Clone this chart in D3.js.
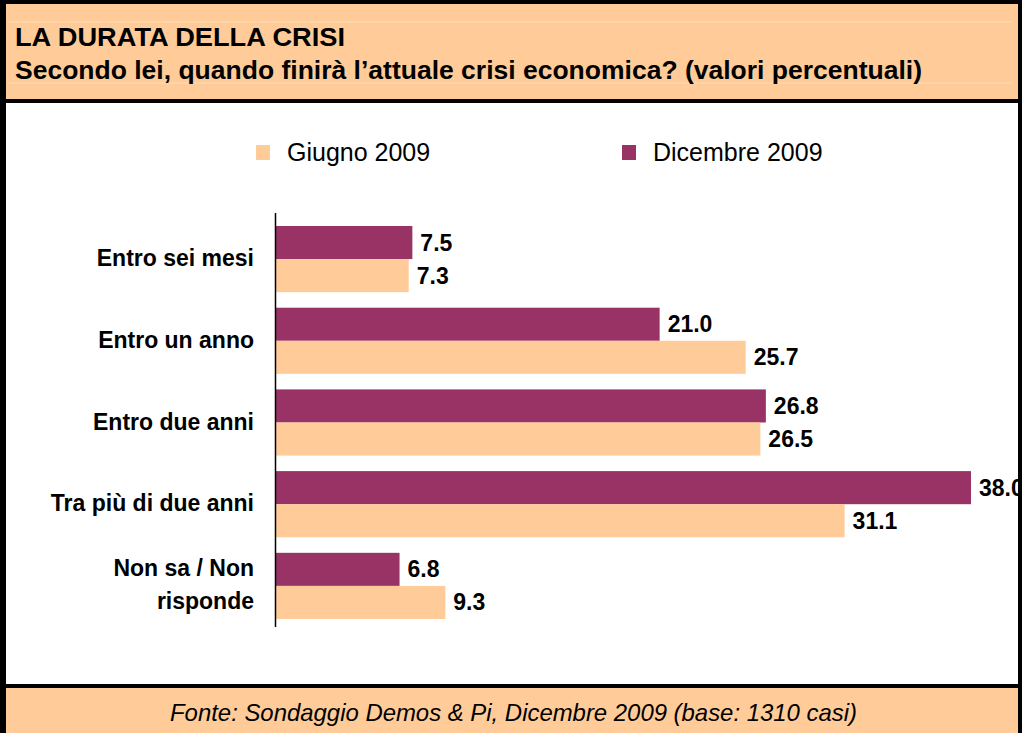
<!DOCTYPE html>
<html><head><meta charset="utf-8">
<script src="https://cdn.jsdelivr.net/npm/d3@7"></script>
<style>body{margin:0;background:#fff}svg{display:block}</style>
</head><body>
<script>
const categories = [["Entro sei mesi"],["Entro un anno"],["Entro due anni"],["Tra più di due anni"],["Non sa / Non","risponde"]];
const series = ["Dicembre 2009","Giugno 2009"];
const dicembre = [7.5, 21.0, 26.8, 38.0, 6.8];
const giugno = [7.3, 25.7, 26.5, 31.1, 9.3];
const colors = {"Dicembre 2009":"#993366","Giugno 2009":"#FFCC99"};

const W=1022,H=733;
const svg=d3.select("body").append("svg").attr("width",W).attr("height",H);
const font="'Liberation Sans', Arial, Helvetica, sans-serif";

// background & frame
svg.append("rect").attr("x",0).attr("y",0).attr("width",W).attr("height",H).attr("fill","#fff");
svg.append("rect").attr("x",3).attr("y",2).attr("width",1016).attr("height",100).attr("fill","#FFCC99");
svg.append("rect").attr("x",3).attr("y",686).attr("width",1016).attr("height",47).attr("fill","#FFCC99");
svg.append("line").attr("x1",8).attr("x2",1012).attr("y1",22).attr("y2",22).attr("stroke","#FFDDB8").attr("stroke-width",1);
svg.append("line").attr("x1",8).attr("x2",1012).attr("y1",83).attr("y2",83).attr("stroke","#FFDDB8").attr("stroke-width",1);
// borders
svg.append("rect").attr("x",0).attr("y",0).attr("width",6).attr("height",H).attr("fill","#000");
svg.append("rect").attr("x",1018).attr("y",0).attr("width",4).attr("height",H).attr("fill","#000");
svg.append("rect").attr("x",0).attr("y",0).attr("width",W).attr("height",4).attr("fill","#000");
svg.append("rect").attr("x",0).attr("y",99).attr("width",W).attr("height",4).attr("fill","#000");
svg.append("rect").attr("x",0).attr("y",684).attr("width",W).attr("height",4).attr("fill","#000");

// titles
svg.append("text").attr("x",15).attr("y",46).attr("font-family",font).attr("font-weight","bold").attr("font-size",25.5).attr("textLength",330).attr("lengthAdjust","spacingAndGlyphs").text("LA DURATA DELLA CRISI");
svg.append("text").attr("x",15).attr("y",79).attr("font-family",font).attr("font-weight","bold").attr("font-size",25.5).attr("textLength",907).attr("lengthAdjust","spacingAndGlyphs").text("Secondo lei, quando finirà l\u2019attuale crisi economica? (valori percentuali)");
svg.append("text").attr("x",170).attr("y",721).attr("font-family",font).attr("font-style","italic").attr("font-size",24).attr("textLength",687).attr("lengthAdjust","spacingAndGlyphs").text("Fonte: Sondaggio Demos & Pi, Dicembre 2009 (base: 1310 casi)");

// legend
const legend=[{name:"Giugno 2009",x:256},{name:"Dicembre 2009",x:622}];
legend.forEach(l=>{
  svg.append("rect").attr("x",l.x).attr("y",145).attr("width",14).attr("height",15).attr("fill",colors[l.name]);
  svg.append("text").attr("x",l.x+31).attr("y",161).attr("font-family",font).attr("font-size",25).text(l.name);
});

// scales
const x0=275;
const x=d3.scaleLinear().domain([0,38]).range([x0,971]);
const y=d3.scaleBand().domain(d3.range(categories.length)).range([226,619]).paddingInner(0.19).paddingOuter(0);
const ys=d3.scaleBand().domain(series).range([0,y.bandwidth()]);

const data={"Dicembre 2009":dicembre,"Giugno 2009":giugno};
categories.forEach((c,i)=>{
  series.forEach(s=>{
    const v=data[s][i];
    const yy=y(i)+ys(s);
    svg.append("rect").attr("x",x(0)).attr("y",yy).attr("width",x(v)-x(0)).attr("height",ys.bandwidth()).attr("fill",colors[s]);
    svg.append("text").attr("x",x(v)+8).attr("y",yy+ys.bandwidth()/2+8).attr("font-family",font).attr("font-weight","bold").attr("font-size",23).text(v.toFixed(1));
  });
  const cy=y(i)+y.bandwidth()/2;
  const n=c.length;
  c.forEach((line,k)=>{
    svg.append("text").attr("x",254).attr("y",cy+7+(k-(n-1)/2)*33).attr("text-anchor","end").attr("font-family",font).attr("font-weight","bold").attr("font-size",23).text(line);
  });
});

// axis line
svg.append("line").attr("x1",x0+0.5).attr("x2",x0+0.5).attr("y1",213).attr("y2",627).attr("stroke","#000").attr("stroke-width",1.5);
</script>
</body></html>
